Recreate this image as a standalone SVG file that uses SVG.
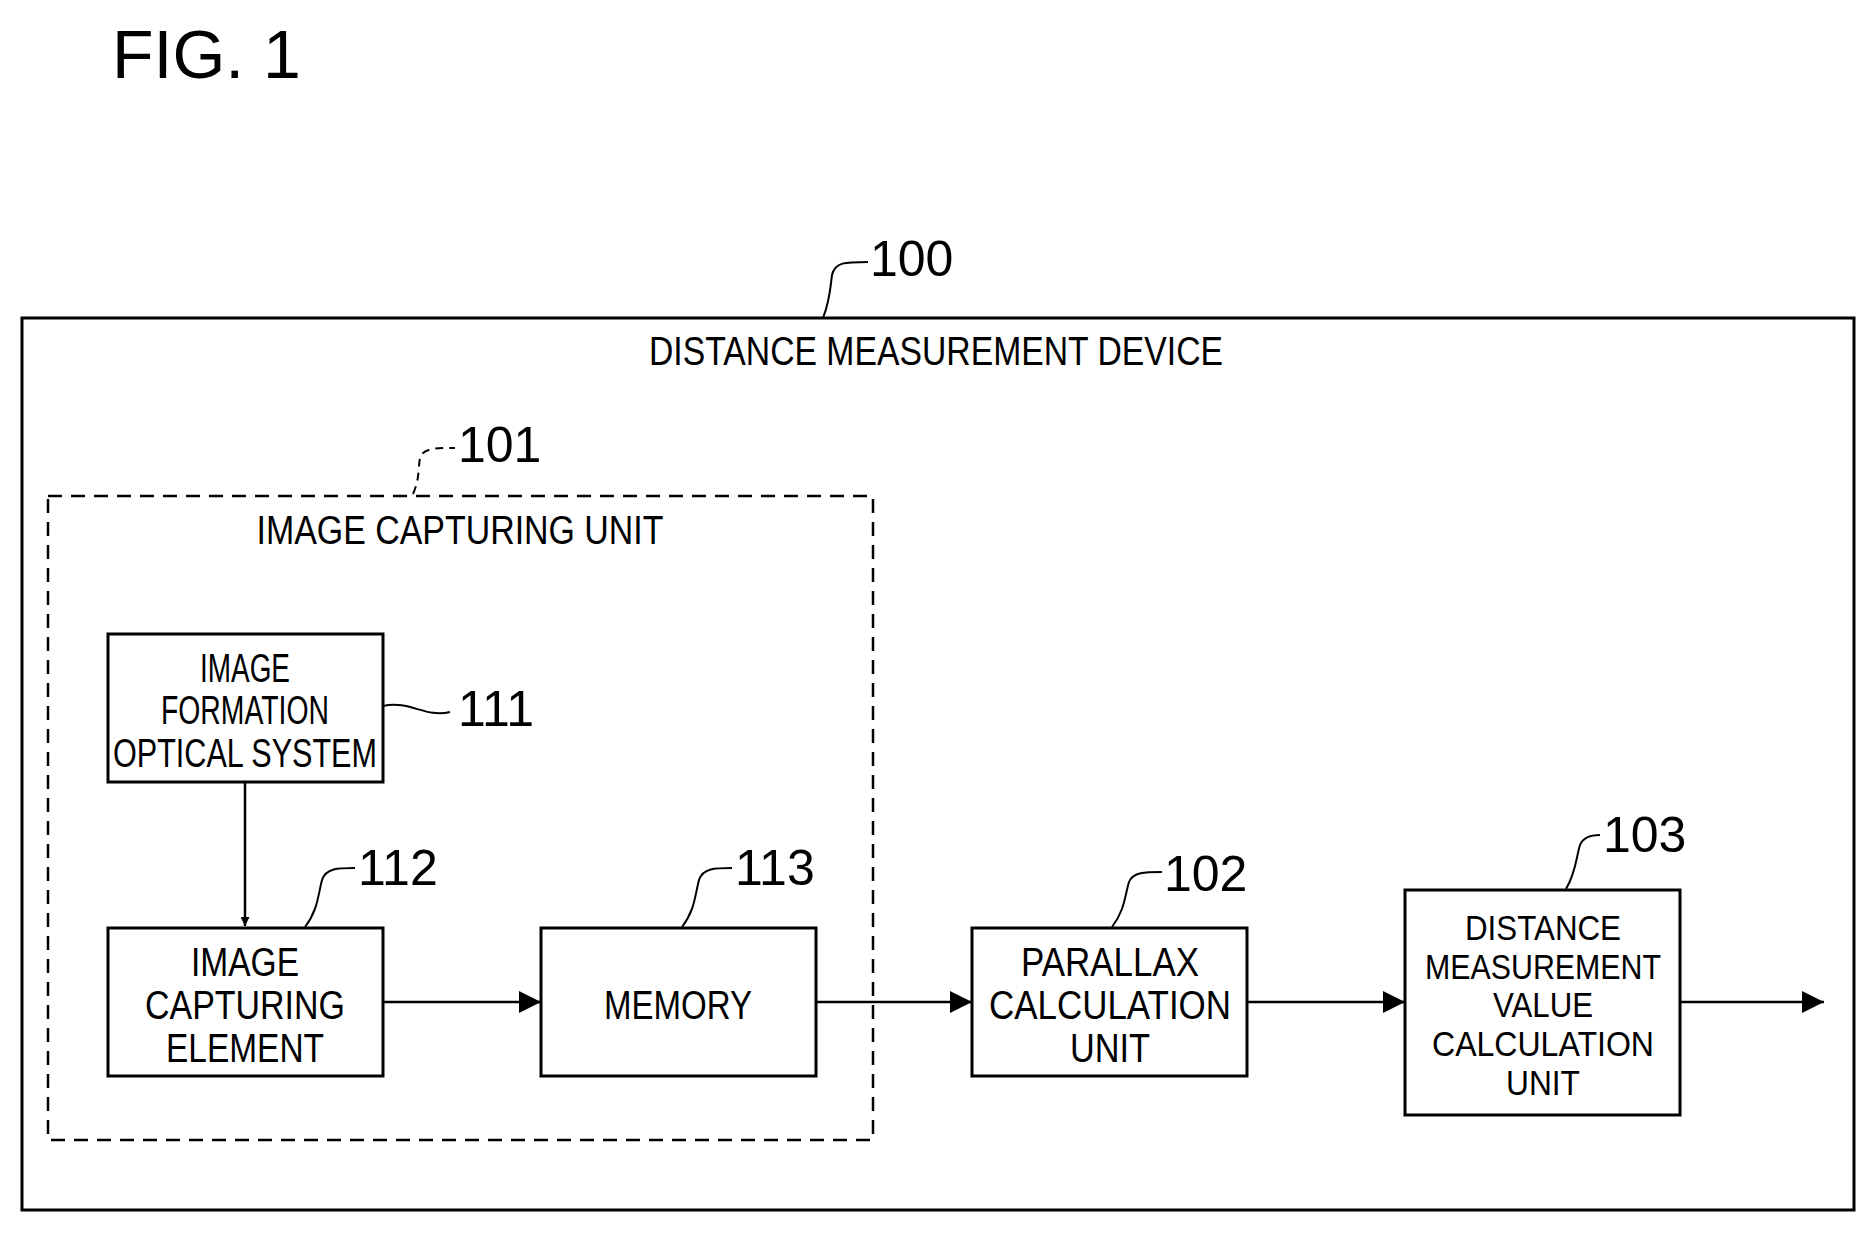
<svg xmlns="http://www.w3.org/2000/svg" width="1875" height="1234" viewBox="0 0 1875 1234">
<style>
.b{fill:#fff;stroke:#000;stroke-width:3}
.t{font-family:"Liberation Sans",Arial,sans-serif;font-size:40px;text-anchor:middle}
.s{font-size:35px}
.n{font-family:"Liberation Sans",Arial,sans-serif;font-size:50px}
.l{fill:none;stroke:#000;stroke-width:2}
.c{stroke:#000;stroke-width:2.5;fill:none;marker-end:url(#a)}
</style>
<defs><marker id="a" viewBox="0 0 10 10" refX="10" refY="5" markerWidth="9" markerHeight="9" markerUnits="userSpaceOnUse" orient="auto"><path d="M0,0L10,5L0,10z"/></marker>
<marker id="a2" viewBox="0 0 10 10" refX="10" refY="5" markerWidth="28" markerHeight="22" markerUnits="userSpaceOnUse" orient="auto"><path d="M0,0L10,5L0,10z"/></marker></defs>
<rect width="1875" height="1234" fill="#fff"/>
<text x="112" y="78" font-family="Liberation Sans,Arial,sans-serif" font-size="68">FIG. 1</text>
<g id="n100"><rect class="b" x="22" y="318" width="1832" height="892"/>
<text class="t" x="936" y="365" textLength="574" lengthAdjust="spacingAndGlyphs">DISTANCE MEASUREMENT DEVICE</text>
<path class="l" d="M823,318 C830,300 830,290 832,275 C835,262 845,262 868,262"/><text class="n" x="870" y="276">100</text></g>
<g id="n101"><rect x="48" y="496" width="825" height="644" fill="none" stroke="#000" stroke-width="2.5" stroke-dasharray="14,9"/>
<text class="t" x="460" y="544" textLength="407" lengthAdjust="spacingAndGlyphs">IMAGE CAPTURING UNIT</text>
<path class="l" stroke-dasharray="8,6" d="M413,494 C420,478 418,468 420,458 C423,448 435,448 455,448"/><text class="n" x="458" y="462">101</text></g>
<g id="n111"><rect class="b" x="108" y="634" width="275" height="148"/>
<text class="t" x="245" y="682" textLength="90" lengthAdjust="spacingAndGlyphs">IMAGE</text>
<text class="t" x="245" y="724" textLength="168" lengthAdjust="spacingAndGlyphs">FORMATION</text>
<text class="t" x="245" y="767" textLength="264" lengthAdjust="spacingAndGlyphs">OPTICAL SYSTEM</text>
<path class="l" d="M383,706 C410,700 425,718 450,712"/><text class="n" x="458" y="726">111</text></g>
<g id="n112"><rect class="b" x="108" y="928" width="275" height="148"/>
<text class="t" x="245" y="976" textLength="108" lengthAdjust="spacingAndGlyphs">IMAGE</text>
<text class="t" x="245" y="1019" textLength="200" lengthAdjust="spacingAndGlyphs">CAPTURING</text>
<text class="t" x="245" y="1062" textLength="158" lengthAdjust="spacingAndGlyphs">ELEMENT</text>
<path class="l" d="M305,927 C318,910 318,895 322,880 C326,868 338,868 355,868"/><text class="n" x="358" y="885">112</text></g>
<g id="n113"><rect class="b" x="541" y="928" width="275" height="148"/>
<text class="t" x="678" y="1019" textLength="148" lengthAdjust="spacingAndGlyphs">MEMORY</text>
<path class="l" d="M682,927 C695,910 695,895 699,880 C703,868 715,868 732,868"/><text class="n" x="735" y="885">113</text></g>
<g id="n102"><rect class="b" x="972" y="928" width="275" height="148"/>
<text class="t" x="1110" y="976" textLength="178" lengthAdjust="spacingAndGlyphs">PARALLAX</text>
<text class="t" x="1110" y="1019" textLength="242" lengthAdjust="spacingAndGlyphs">CALCULATION</text>
<text class="t" x="1110" y="1062" textLength="80" lengthAdjust="spacingAndGlyphs">UNIT</text>
<path class="l" d="M1112,927 C1125,910 1125,895 1129,882 C1133,872 1145,872 1162,872"/><text class="n" x="1164" y="891">102</text></g>
<g id="n103"><rect class="b" x="1405" y="890" width="275" height="225"/>
<text class="t s" x="1543" y="940" textLength="156" lengthAdjust="spacingAndGlyphs">DISTANCE</text>
<text class="t s" x="1543" y="979" textLength="236" lengthAdjust="spacingAndGlyphs">MEASUREMENT</text>
<text class="t s" x="1543" y="1017" textLength="100" lengthAdjust="spacingAndGlyphs">VALUE</text>
<text class="t s" x="1543" y="1056" textLength="222" lengthAdjust="spacingAndGlyphs">CALCULATION</text>
<text class="t s" x="1543" y="1095" textLength="74" lengthAdjust="spacingAndGlyphs">UNIT</text>
<path class="l" d="M1566,889 C1576,872 1576,858 1580,845 C1584,835 1595,835 1600,835"/><text class="n" x="1603" y="852">103</text></g>
<g id="connectors">
<line class="c" x1="245" y1="782" x2="245" y2="926"/>
<line class="c" style="marker-end:url(#a2)" x1="383" y1="1002" x2="541" y2="1002"/>
<line class="c" style="marker-end:url(#a2)" x1="816" y1="1002" x2="972" y2="1002"/>
<line class="c" style="marker-end:url(#a2)" x1="1247" y1="1002" x2="1405" y2="1002"/>
<line class="c" style="marker-end:url(#a2)" x1="1680" y1="1002" x2="1824" y2="1002"/>
</g>
</svg>
